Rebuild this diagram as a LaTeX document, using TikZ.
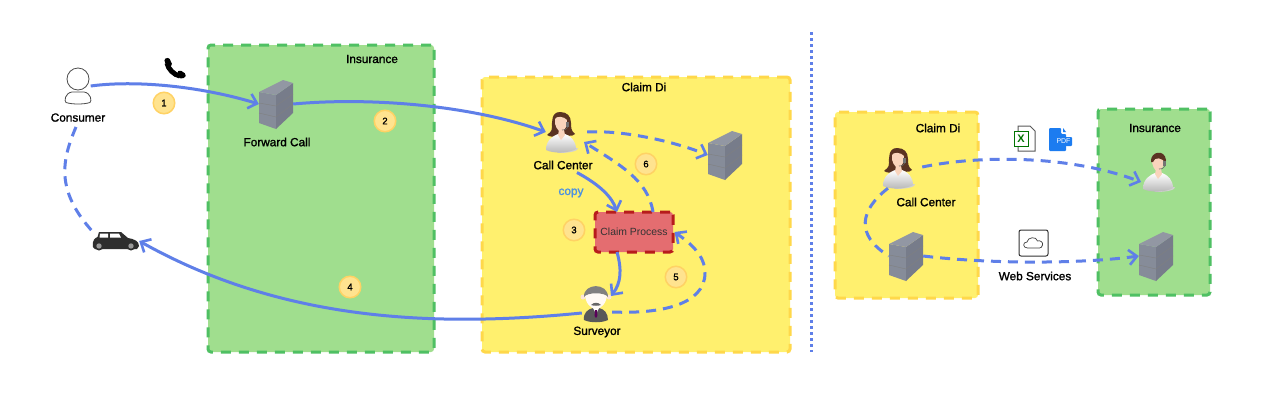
\documentclass[tikz,border=0pt]{standalone}
\usepackage{fontspec}
\setmainfont{Liberation Sans}
\newfontfamily\labelfont[FakeBold=1.4]{Liberation Sans}
\usetikzlibrary{arrows.meta,positioning}
\definecolor{flowblue}{HTML}{5F7FE8}
\definecolor{zonegreen}{HTML}{A0DE8E}
\definecolor{zonegreenline}{HTML}{4FC063}
\definecolor{zoneyellow}{HTML}{FFF06E}
\definecolor{zoneyellowline}{HTML}{FFD84A}
\definecolor{claimred}{HTML}{E46D70}
\definecolor{claimline}{HTML}{B71C1C}
\definecolor{badgefill}{HTML}{FFE38F}
\definecolor{badgeline}{HTML}{FFD264}
\definecolor{srvtop}{HTML}{9297A3}
\definecolor{srvleft}{HTML}{868C99}
\definecolor{srvright}{HTML}{777C8A}
\definecolor{hair}{HTML}{5A3322}
\definecolor{skin}{HTML}{F9D4BC}
\definecolor{pdfblue}{HTML}{1C7CF0}
\definecolor{copyblue}{HTML}{4A90E2}
\tikzset{
  zone/.style={rounded corners=3pt,line width=3pt,dash pattern=on 10pt off 8pt},
  greenzone/.style={zone,draw=zonegreenline,fill=zonegreen},
  yellowzone/.style={zone,draw=zoneyellowline,fill=zoneyellow},
  process/.style={zone,draw=claimline,fill=claimred,font=\fontsize{10.4}{12}\selectfont,
    text=black!80,minimum width=78pt,minimum height=40pt,inner sep=0pt},
  badge/.style={circle,draw=badgeline,fill=badgefill,line width=1.5pt,minimum size=21.5pt,
    inner sep=0pt,font=\labelfont\fontsize{9.5}{10}\selectfont},
  caption/.style={font=\labelfont\fontsize{11.8}{13}\selectfont,inner sep=0pt},
  iconbox/.style 2 args={minimum width=#1,minimum height=#2,inner sep=0pt},
  flowplain/.style={draw=flowblue,line width=3pt},
  flow/.style={flowplain,-{Straight Barb[length=8pt,width=15pt,line width=2.6pt]}},
  dashedflow/.style={flow,dash pattern=on 10pt off 7pt},
  dashedplain/.style={flowplain,dash pattern=on 10pt off 7pt},
  server/.pic={
    \fill[srvleft] (-17,-12) -- (0,-9) -- (0,25) -- (-17,19) -- cycle;
    \fill[srvright] (0,-9) -- (17,-21) -- (17,9) -- (0,25) -- cycle;
    \fill[srvtop] (-17,-12) -- (7,-24) -- (17,-21) -- (0,-9) -- cycle;
    \draw[black!50,line width=.4pt] (-17,-1) -- (0,2) -- (17,-10) (-17,9) -- (0,13) -- (17,0);
  },
  agentbody/.pic={
    \fill[black!18] (-10,16) -- (17,16) .. controls (18,19) and (8,21) .. (-2,21) -- cycle;
    \shade[top color=white,bottom color=black!30] (-15,18) .. controls (-15,8) and (-8,4) .. (-3,2)
      -- (4,2) .. controls (10,4) and (15,9) .. (15,17) .. controls (8,21) and (-7,22) .. (-15,18) -- cycle;
    \fill[skin] (-3,3) -- (0,8) -- (4,3) -- (3,-2) -- (-2,-2) -- cycle;
  },
  womanagent/.pic={
    \fill[hair] (-1,-20) .. controls (-10,-20) and (-9,-9) .. (-9,-5) .. controls (-9,0) and (-12,1) .. (-14,3)
      .. controls (-7,7) and (-3,3) .. (1,1) .. controls (6,4) and (11,5) .. (14,2)
      .. controls (10,-1) and (10,-5) .. (10,-9) .. controls (10,-16) and (6,-20) .. (-1,-20) -- cycle;
    \pic {agentbody};
    \fill[skin] (-6,-13) .. controls (-5,-16) and (3,-16) .. (6,-12) .. controls (7,-6) and (3,-1) .. (0,0)
      .. controls (-3,-1) and (-7,-6) .. (-6,-13) -- cycle;
    \fill[black!55] (5,-10) rectangle (8,-5);
    \draw[black!60,line width=.6pt] (7,-5) .. controls (6,-2) and (3,-2) .. (1,-2);
  },
  managent/.pic={
    \pic {agentbody};
    \fill[skin] (-6,-13) .. controls (-5,-15) and (3,-15) .. (6,-12) .. controls (7,-6) and (3,0) .. (0,1)
      .. controls (-3,0) and (-7,-6) .. (-6,-13) -- cycle;
    \fill[hair] (-7,-9) .. controls (-8,-20) and (7,-22) .. (8,-11) -- (7,-8)
      .. controls (6,-13) and (-4,-15) .. (-5,-9) -- cycle;
    \fill[black!55] (5,-10) rectangle (8,-5);
    \draw[black!60,line width=.6pt] (7,-5) .. controls (6,-2) and (3,-2) .. (1,-2);
  },
  surveyorman/.pic={
    \fill[black!65] (-12,17) .. controls (-13,10) and (-8,6) .. (-3,5) -- (3,5)
      .. controls (8,6) and (12,10) .. (12,17) .. controls (6,20) and (-6,20) .. (-12,17) -- cycle;
    \fill[white] (-3,5) -- (0,11) -- (3,5) -- cycle;
    \fill[violet!70!black] (-1,7) -- (1,7) -- (1.4,13) -- (0,15) -- (-1.4,13) -- cycle;
    \fill[skin!60!white] (-13,-6) circle (2.5) (13,-6) circle (2.5);
    \fill[white!96!orange] (-11,-9) .. controls (-11,-14) and (11,-14) .. (11,-9)
      .. controls (11,0) and (5,6) .. (0,6) .. controls (-5,6) and (-11,0) .. (-11,-9) -- cycle;
    \fill[black!50] (-12,-6) .. controls (-13,-20) and (12,-21) .. (12,-6) .. controls (9,-11) and (-9,-11) .. (-12,-6) -- cycle;
    \fill[black!60] (-5,2) .. controls (-2,-1) and (2,-1) .. (5,2) .. controls (2,3) and (-2,3) .. (-5,2) -- cycle;
  },
  carside/.pic={
    \fill[black!82] (-23,6) .. controls (-24,-1) and (-21,-3) .. (-18.5,-4) -- (-17,-9) -- (5,-9) -- (12,-3)
      .. controls (18,-2) and (23,0) .. (23,5) -- (21,8) -- (-21,8) -- cycle;
    \fill[white] (-16,-7.5) -- (-8,-7.5) -- (-8,-3.5) -- (-16.5,-3.5) -- cycle
      (-6,-7.5) -- (3,-7.5) -- (5,-3.5) -- (-6,-3.5) -- cycle;
    \fill[black!82] (-17,5) circle (4.5) (15,5) circle (4.5);
    \fill[black!40] (-17,5) circle (2.7) (15,5) circle (2.7);
  },
  phoneicon/.pic={
    \draw[black,line width=5pt] (-8,-5) .. controls (-7,1) and (-1,7) .. (5,8);
    \fill[black,rounded corners=1.5pt] (-11,-9) -- (-6,-10.5) -- (-2.5,-3) -- (-8,0) -- cycle
      (2,4) -- (5,2) -- (11,6) -- (10,10) -- (4,10.5) -- cycle;
  },
  personicon/.pic={
    \draw[black!70,line width=.8pt,fill=white] (-6,6) .. controls (-13,7) and (-14,15) .. (-12,16.5)
      .. controls (-6,18.5) and (6,18.5) .. (12,16.5) .. controls (14,15) and (13,7) .. (6,6) -- cycle;
    \draw[black!70,line width=.8pt,fill=white] (0,-7) circle (11);
  },
  excelicon/.pic={
    \draw[black!65,line width=1pt,fill=white] (-6,-13) -- (6,-13) -- (11,-8) -- (11,12) -- (-6,12) -- cycle;
    \draw[green!45!black,line width=1pt,fill=white] (-10,-8) rectangle (4,7);
    \node[font=\bfseries\fontsize{11}{11}\selectfont,text=green!45!black,inner sep=0pt] at (-3,-.5) {X};
  },
  pdficon/.pic={
    \fill[pdfblue,rounded corners=1pt] (-12,-12) -- (0,-12) -- (0,-6) -- (5,-6) -- (5,11) -- (-12,11) -- cycle;
    \fill[pdfblue] (2,-12) -- (5,-8) -- (2,-8) -- cycle;
    \fill[pdfblue,rounded corners=1pt] (-6,-3) rectangle (11,6);
    \node[font=\fontsize{7}{7}\selectfont,text=white,inner sep=0pt] at (2.5,1.5) {PDF};
  },
  cloudicon/.pic={
    \draw[black!80,line width=1pt,fill=white,rounded corners=2pt] (-14.5,-13) rectangle (14.5,13);
    \draw[black!75,line width=.7pt] (-6,5) .. controls (-11,5) and (-11,-1) .. (-6.5,-1)
      .. controls (-6,-6) and (3,-7) .. (4,-2) .. controls (6,-3) and (10,-1) .. (9,2)
      .. controls (9,4) and (7,5) .. (6,5) -- cycle;
  }
}
\begin{document}
\begin{tikzpicture}[x=1pt,y=-1pt]
  \useasboundingbox (0,0) rectangle (1262,408);
  \fill[white] (0,0) rectangle (1262,408);
  % zones
  \node[greenzone,minimum width=226pt,minimum height=307pt] (zoneinsA) at (321,198.5) {};
  \node[yellowzone,minimum width=308pt,minimum height=275pt] (zoneclaimA) at (636,214.5) {};
  \node[yellowzone,minimum width=143pt,minimum height=186pt] (zoneclaimB) at (906.5,205) {};
  \node[greenzone,minimum width=112pt,minimum height=186pt] (zoneinsB) at (1154,202) {};
  \coordinate (sepT) at (811,32);
  \coordinate (sepB) at (811,352);
  \draw[flowblue,line width=3pt,dash pattern=on 3pt off 3pt] (sepT) -- (sepB);
  \node[caption] (insAtxt) at (372,59) {Insurance};
  \node[caption] (claimAtxt) at (644,87) {Claim Di};
  \node[caption] (claimBtxt) at (938,128) {Claim Di};
  \node[caption] (insBtxt) at (1155,128) {Insurance};
  % icons
  \node[iconbox={25pt}{36pt}] (consumer) at (78,86) {};
  \pic at (consumer) {personicon};
  \node[caption] (consumertxt) [below=9pt of consumer] {Consumer};
  \node[iconbox={22pt}{20pt}] (phone) at (175,68) {};
  \pic at (phone) {phoneicon};
  \node[iconbox={46pt}{18pt}] (car) at (116,241) {};
  \pic at (car) {carside};
  \node[iconbox={34pt}{50pt}] (forward) at (276,104) {};
  \pic at (forward) {server};
  \node[caption] (forwardtxt) at (277,142) {Forward Call};
  \node[iconbox={30pt}{38pt}] (callA) at (561,132) {};
  \pic at (callA) {womanagent};
  \coordinate (callAin) at (584,142);
  \node[caption] (callAtxt) at (563,165) {Call Center};
  \node[iconbox={34pt}{50pt}] (srvA) at (725,155) {};
  \pic at (srvA) {server};
  \node[process] (claim) at (634,232) {Claim Process};
  \coordinate (claimIn) at (617,212);
  \coordinate (claimOut) at (617,252);
  \coordinate (claimUp) at (653,212);
  \node[font=\labelfont\fontsize{11.8}{13}\selectfont,text=copyblue,inner sep=0pt] (copytxt) at (571,193) {copy};
  \node[iconbox={28pt}{38pt}] (surveyor) at (596,303) {};
  \pic at (surveyor) {surveyorman};
  \coordinate (surveyorIn) at (611,296);
  \node[caption] (surveyortxt) at (597,332) {Surveyor};
  \node[iconbox={30pt}{38pt}] (callB) at (898,168) {};
  \pic at (callB) {womanagent};
  \node[caption] (callBtxt) at (926,202) {Call Center};
  \node[iconbox={34pt}{50pt}] (srvB) at (906,256) {};
  \pic at (srvB) {server};
  \node[iconbox={30pt}{38pt}] (agentB) at (1158,171) {};
  \pic at (agentB) {managent};
  \coordinate (agentBin) at (1141,182);
  \node[iconbox={34pt}{50pt}] (srvC) at (1156,256) {};
  \pic at (srvC) {server};
  \node[iconbox={22pt}{25pt}] (excel) at (1024,139) {};
  \pic at (excel) {excelicon};
  \node[iconbox={22pt}{24pt}] (pdf) at (1061,140) {};
  \pic at (pdf) {pdficon};
  \node[iconbox={29pt}{26pt}] (cloud) at (1033.5,243) {};
  \pic at (cloud) {cloudicon};
  \node[caption] (webtxt) at (1035,276) {Web Services};
  % badges
  \node[badge] (b1) at (164,103) {1};
  \node[badge] (b2) at (385,121) {2};
  \node[badge] (b3) at (574,230) {3};
  \node[badge] (b4) at (350,287) {4};
  \node[badge] (b5) at (676,277) {5};
  \node[badge] (b6) at (646,164) {6};
  % connectors
  \draw[flow] (consumer.east) .. controls (135,80) and (200,86) .. (forward.west);
  \draw[flow] (forward.east) .. controls (370,97) and (470,105) .. (callA.west);
  \draw[flow] (callAtxt.south) ++(14,3) .. controls (600,185) and (612,197) .. (claimIn);
  \draw[flow] (claimOut) .. controls (622,270) and (621,283) .. (surveyorIn);
  \draw[flow] (surveyor.west) ++(0,10) .. controls (430,328) and (280,320) .. (car.east);
  \draw[dashedplain] (consumertxt.south) ++(-2,5) .. controls (62,160) and (55,190) .. (car.north west);
  \draw[dashedflow] (surveyor.east) ++(2,9) .. controls (660,314) and (705,305) .. (705,273)
    .. controls (705,255) and (690,243) .. (claim.east);
  \draw[dashedflow] (claimUp) .. controls (648,180) and (620,165) .. (callAin);
  \draw[dashedflow] (callA.east) ++(11,0) .. controls (620,130) and (670,140) .. (srvA.west);
  \draw[dashedflow] (callB.east) ++(9,-1) .. controls (980,155) and (1070,155) .. (agentBin);
  \draw[dashedplain] (callB.south) ++(-10,1) .. controls (860,210) and (855,235) .. (srvB.west);
  \draw[dashedflow] (srvB.east) .. controls (990,264) and (1080,264) .. (srvC.west);
\end{tikzpicture}
\end{document}
